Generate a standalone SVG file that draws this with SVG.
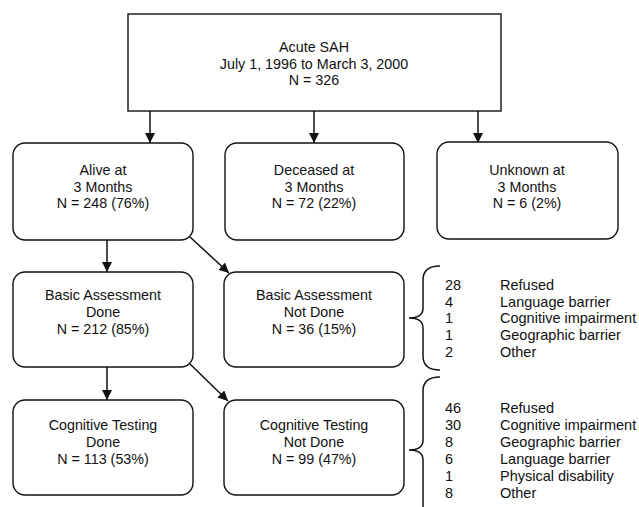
<svg xmlns="http://www.w3.org/2000/svg" width="639" height="507" viewBox="0 0 639 507">
<defs>
<style>
.box{fill:#fff;stroke:#111;stroke-width:1.4}
.t{font-family:"Liberation Sans",Arial,sans-serif;font-size:14.3px;fill:#111;text-anchor:middle}
.l{font-family:"Liberation Sans",Arial,sans-serif;font-size:14.5px;fill:#111}
.c{stroke:#111;stroke-width:1.5;fill:none}
</style>
<marker id="ah" viewBox="0 0 10 10" refX="10" refY="5" markerWidth="10" markerHeight="10" markerUnits="userSpaceOnUse" orient="auto">
<path d="M0,0 L10,5 L0,10 Z" fill="#111"/>
</marker>
</defs>
<rect width="639" height="507" fill="#fff"/>
<g id="connectors">
<line class="c" x1="150" y1="111" x2="150" y2="143" marker-end="url(#ah)"/>
<line class="c" x1="314" y1="111" x2="314" y2="143" marker-end="url(#ah)"/>
<line class="c" x1="478" y1="111" x2="478" y2="143" marker-end="url(#ah)"/>
<line class="c" x1="107" y1="240" x2="107" y2="272" marker-end="url(#ah)"/>
<line class="c" x1="190" y1="237" x2="229" y2="273" marker-end="url(#ah)"/>
<line class="c" x1="107" y1="367" x2="107" y2="400" marker-end="url(#ah)"/>
<line class="c" x1="190" y1="364" x2="228" y2="401" marker-end="url(#ah)"/>
<path class="c" d="M440,266 Q423,266 423,280 L423,308 Q423,318 409,318 Q423,318 423,328 L423,356 Q423,370 440,370"/>
<path class="c" d="M440,377 Q423,377 423,391 L423,440 Q423,450 409,450 Q423,450 423,460 L423,520"/>
</g>
<g id="n-acute">
<rect class="box" x="128" y="14" width="373" height="97"/>
<text class="t" x="314" y="52">Acute SAH</text>
<text class="t" x="314" y="68.5">July 1, 1996 to March 3, 2000</text>
<text class="t" x="314" y="85">N = 326</text>
</g>
<g id="n-alive">
<rect class="box" x="13" y="143" width="180" height="97" rx="12"/>
<text class="t" x="103" y="175">Alive at</text>
<text class="t" x="103" y="191.5">3 Months</text>
<text class="t" x="103" y="208">N = 248 (76%)</text>
</g>
<g id="n-deceased">
<rect class="box" x="225" y="143" width="179" height="97" rx="12"/>
<text class="t" x="314" y="175">Deceased at</text>
<text class="t" x="314" y="191.5">3 Months</text>
<text class="t" x="314" y="208">N = 72 (22%)</text>
</g>
<g id="n-unknown">
<rect class="box" x="437" y="142" width="181" height="97" rx="12"/>
<text class="t" x="527" y="175">Unknown at</text>
<text class="t" x="527" y="191.5">3 Months</text>
<text class="t" x="527" y="208">N = 6 (2%)</text>
</g>
<g id="n-basic-done">
<rect class="box" x="13" y="272" width="180" height="95" rx="12"/>
<text class="t" x="103" y="300">Basic Assessment</text>
<text class="t" x="103" y="317">Done</text>
<text class="t" x="103" y="334">N = 212 (85%)</text>
</g>
<g id="n-basic-not">
<rect class="box" x="224" y="272" width="180" height="95" rx="12"/>
<text class="t" x="314" y="300">Basic Assessment</text>
<text class="t" x="314" y="317">Not Done</text>
<text class="t" x="314" y="334">N = 36 (15%)</text>
</g>
<g id="n-cog-done">
<rect class="box" x="13" y="400" width="180" height="95" rx="12"/>
<text class="t" x="103" y="430">Cognitive Testing</text>
<text class="t" x="103" y="447">Done</text>
<text class="t" x="103" y="463.5">N = 113 (53%)</text>
</g>
<g id="n-cog-not">
<rect class="box" x="224" y="400" width="180" height="95" rx="12"/>
<text class="t" x="314" y="430">Cognitive Testing</text>
<text class="t" x="314" y="447">Not Done</text>
<text class="t" x="314" y="463.5">N = 99 (47%)</text>
</g>
<g id="list-basic">
<text class="l" x="445" y="290">28</text><text class="l" x="500" y="290">Refused</text>
<text class="l" x="445" y="306.7">4</text><text class="l" x="500" y="306.7">Language barrier</text>
<text class="l" x="445" y="323.4">1</text><text class="l" x="500" y="323.4">Cognitive impairment</text>
<text class="l" x="445" y="340.1">1</text><text class="l" x="500" y="340.1">Geographic barrier</text>
<text class="l" x="445" y="356.8">2</text><text class="l" x="500" y="356.8">Other</text>
</g>
<g id="list-cog">
<text class="l" x="445" y="413">46</text><text class="l" x="500" y="413">Refused</text>
<text class="l" x="445" y="429.9">30</text><text class="l" x="500" y="429.9">Cognitive impairment</text>
<text class="l" x="445" y="446.8">8</text><text class="l" x="500" y="446.8">Geographic barrier</text>
<text class="l" x="445" y="463.7">6</text><text class="l" x="500" y="463.7">Language barrier</text>
<text class="l" x="445" y="480.6">1</text><text class="l" x="500" y="480.6">Physical disability</text>
<text class="l" x="445" y="497.5">8</text><text class="l" x="500" y="497.5">Other</text>
</g>
</svg>
